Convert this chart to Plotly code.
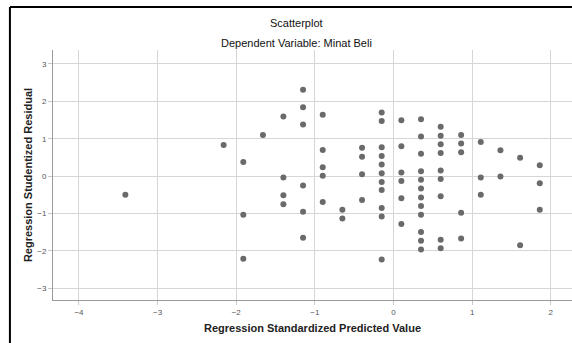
import plotly.graph_objects as go

# Regression Standardized Predicted Value
pred = [-1.15, -1.15, -1.40, -0.90, -1.15, -1.66, -2.16, -0.90, -1.91, -0.90,
        -1.40, -0.90, -1.15, -1.40, -1.40, -0.90, -1.91, -1.15, -1.15, -1.91,
        -0.15, -0.15, 0.10, 0.35, 0.60, 0.60, 0.35, -0.40, -0.40, -0.15,
        -0.15, -0.15, 0.10, 0.35, 0.60, 0.60, -0.40, -0.15, 0.10, 0.35,
        0.60, -0.15, 0.10, 0.35, 0.60, -0.15, 0.35, -0.40, 0.10, 0.35,
        0.60, 0.35, -0.65, -0.65, -0.15, -0.15, 0.35, 0.10, 0.35, 0.35,
        0.35, 0.60, 0.60, -0.15, 0.86, 0.86, 1.11, 0.86, 1.36, 1.61,
        1.86, 1.11, 1.36, 1.86, 1.11, 0.86, 1.86, 0.86, 1.61, -3.41]

# Regression Studentized Residual
resid = [2.31, 1.84, 1.59, 1.64, 1.38, 1.10, 0.83, 0.70, 0.38, 0.24,
         -0.04, 0.01, -0.25, -0.51, -0.75, -0.69, -1.03, -0.95, -1.65, -2.21,
         1.70, 1.47, 1.49, 1.52, 1.32, 1.08, 1.06, 0.76, 0.52, 0.77,
         0.54, 0.31, 0.80, 0.60, 0.85, 0.62, 0.05, 0.08, 0.10, 0.13,
         0.15, -0.16, -0.13, -0.10, -0.08, -0.37, -0.33, -0.64, -0.59, -0.57,
         -0.54, -0.80, -0.90, -1.13, -0.85, -1.08, -1.03, -1.28, -1.49, -1.73,
         -1.96, -1.70, -1.93, -2.23, 1.10, 0.87, 0.91, 0.64, 0.69, 0.49,
         0.29, -0.04, -0.01, -0.19, -0.50, -0.98, -0.90, -1.67, -1.85, -0.50]

x_ticks = [-4, -3, -2, -1, 0, 1, 2]
y_ticks = [-3, -2, -1, 0, 1, 2, 3]

FONT = "Arial, Liberation Sans, sans-serif"

fig = go.Figure(go.Scatter(
    x=pred, y=resid, mode="markers",
    marker=dict(size=6, color="#6a6a6a", line=dict(width=0)),
    showlegend=False,
))

axis_common = dict(
    showgrid=True, gridcolor="#d6d6d6", gridwidth=1,
    zeroline=False, showline=True, linecolor="#9a9a9a", linewidth=1,
    ticks="outside", ticklen=4, tickcolor="#c8c8c8",
    tickfont=dict(family=FONT, size=8, color="#555555"),
)

fig.update_layout(
    width=572, height=343,
    margin=dict(l=53, r=0, t=50, b=43),
    paper_bgcolor="white", plot_bgcolor="white",
    font=dict(family=FONT),
    xaxis=dict(
        range=[-4.33, 2.27], tickvals=x_ticks, mirror=False,
        title=dict(text="<b>Regression Standardized Predicted Value</b>",
                   font=dict(family=FONT, size=11, color="#222222"), standoff=8),
        **axis_common,
    ),
    yaxis=dict(
        range=[-3.31, 3.37], tickvals=y_ticks,
        title=dict(text="<b>Regression Studentized Residual</b>",
                   font=dict(family=FONT, size=11, color="#222222"), standoff=2),
        **axis_common,
    ),
    annotations=[
        dict(text="Scatterplot", xref="paper", yref="paper",
             x=0.47, y=1.0, yanchor="middle", yshift=27, showarrow=False,
             font=dict(family=FONT, size=11, color="#111111")),
        dict(text="Dependent Variable: Minat Beli", xref="paper", yref="paper",
             x=0.47, y=1.0, yanchor="middle", yshift=7, showarrow=False,
             font=dict(family=FONT, size=11, color="#111111")),
    ],
    shapes=[
        dict(type="line", xref="paper", yref="paper",
             x0=-0.083, x1=1.05, y0=1.172, y1=1.172,
             line=dict(color="black", width=2)),
        dict(type="line", xref="paper", yref="paper",
             x0=-0.083, x1=-0.083, y0=-0.3, y1=1.172,
             line=dict(color="black", width=2)),
    ],
)

fig.write_html("out.html")
